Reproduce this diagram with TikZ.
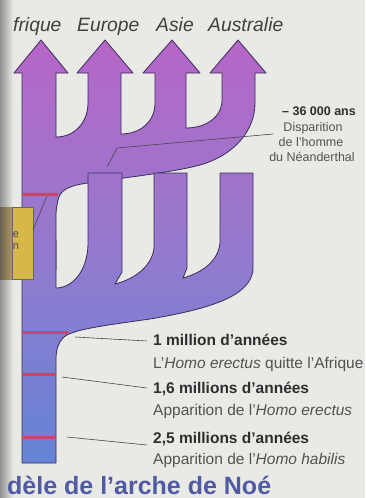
\documentclass[tikz,border=0pt]{standalone}
\usepackage{fontspec}
\setmainfont{Liberation Sans}
\definecolor{bg}{RGB}{233,233,229}
\definecolor{topc}{RGB}{182,102,198}
\definecolor{midc}{RGB}{148,122,206}
\definecolor{botc}{RGB}{100,132,214}
\definecolor{edge}{RGB}{58,44,92}
\definecolor{redbar}{RGB}{196,72,98}
\definecolor{titlec}{RGB}{80,90,165}
\definecolor{boxc}{RGB}{214,184,72}
\newcommand\UPath{(22,270) -- (22,73) -- (14,73) -- (41,40) -- (68,73) -- (56,73) -- (56,137) .. controls (75,137) and (88,122) .. (88,103) -- (88,73) -- (77,73) -- (105,40) -- (133,73) -- (121,73) -- (121,134) .. controls (140,134) and (155,122) .. (155,103) -- (155,73) -- (143,73) -- (172,40) -- (200,73) -- (186,73) -- (186,128) .. controls (206,128) and (222,117) .. (222,100) -- (222,73) -- (210,73) -- (238,40) -- (266,73) -- (255,73) -- (255,103) .. controls (255,130) and (235,155) .. (200,165) .. controls (170,173) and (120,178) .. (88,183) .. controls (72,185) and (60,189) .. (58,200) .. controls (57,205) and (56,209) .. (56,215) -- (56,270) -- cycle}
\newcommand\LPath{(56,240) -- (56,288) .. controls (72,288) and (87,272) .. (88,245) -- (88,173) -- (122,173) -- (122,272) -- (115,284) .. controls (135,279) and (152,266) .. (154,248) -- (154,173) -- (187,173) -- (187,268) -- (183,278) .. controls (201,273) and (218,262) .. (220,243) -- (220,173) -- (253,173) -- (253,270) .. controls (250,295) and (215,308) .. (150,319) .. controls (100,326) and (70,330) .. (63,338) .. controls (58,343) and (56,350) .. (56,360) -- (56,463) -- (22,463) -- (22,240)}
\begin{document}
\begin{tikzpicture}[x=1pt,y=-1pt,
  edgeline/.style={draw=edge, line width=0.8pt, line join=round},
  leader/.style={draw=black!72, line width=0.6pt},
  bar/.style={draw=redbar, line width=3pt},
  grad/.style={top color=topc, bottom color=botc, middle color=midc},
  boldlbl/.style={font=\fontsize{15.5}{18}\selectfont\bfseries, text=black!82, anchor=base west, inner sep=0pt},
  reglbl/.style={font=\fontsize{15.5}{18}\selectfont, text=black!68, anchor=base west, inner sep=0pt},
  toplbl/.style={font=\fontsize{19.3}{22}\selectfont\itshape, text=black!75, anchor=base west, inner sep=0pt},
  rlbl/.style={font=\fontsize{12.5}{15}\selectfont, text=black!68, anchor=base, inner sep=0pt},
]
\useasboundingbox (0,0) rectangle (365,498);
\fill[bg] (0,0) rectangle (365,498);
% page edge
\shade[left color={rgb,255:red,145;green,145;blue,145}, right color=bg] (0,0) rectangle (13,498);

% upper structure (Africa stem and the late dispersal)
\begin{scope}
  \clip \UPath;
  \shade[grad] (0,40) rectangle (365,463);
\end{scope}
\draw[edgeline] \UPath;

% lower structure (trunk and Homo erectus dispersal)
\begin{scope}
  \clip \LPath;
  \shade[grad] (0,40) rectangle (365,463);
\end{scope}
\draw[edgeline] \LPath;

% red time marks
\draw[bar] (22,194) -- (58,194);
\draw[bar] (22,332) -- (68,332);
\draw[bar] (22,374) -- (56,374);
\draw[bar] (22,437) -- (56,437);

% yellow box
\shade[left color={rgb,255:red,105;green,98;blue,82}, right color={rgb,255:red,175;green,155;blue,80}] (0,207) rectangle (12,279);
\node[draw=black!60, line width=0.5pt, fill=boxc, minimum width=21pt, minimum height=72pt, inner sep=0pt, anchor=north west] (box) at (12,207) {};
\node[font=\fontsize{11}{12}\selectfont, text=black!70, inner sep=0pt] (be) at (16,235) {e};
\node[font=\fontsize{11}{12}\selectfont, text=black!70, inner sep=0pt] (bn) at (16,247) {n};

% top labels
\node[toplbl] (afr) at (13,31) {frique};
\node[toplbl] (eur) at (77,31) {Europe};
\node[toplbl] (asi) at (156,31) {Asie};
\node[toplbl] (aus) at (208,31) {Australie};

% right label
\node[rlbl, font=\fontsize{12.5}{15}\selectfont\bfseries, text=black!82] (r1) at (319,115) {– 36 000 ans};
\node[rlbl] (r2) at (313,131) {Disparition};
\node[rlbl] (r3) at (311,146) {de l'homme};
\node[rlbl] (r4) at (312,161) {du Néanderthal};

% bottom labels
\node[boldlbl] (l1) at (153,345) {1 million d'années};
\node[reglbl] (l2) at (153,368) {L'\textit{Homo erectus} quitte l'Afrique};
\node[boldlbl] (l3) at (153,393) {1,6 millions d'années};
\node[reglbl] (l4) at (153,415) {Apparition de l'\textit{Homo erectus}};
\node[boldlbl] (l5) at (153,443) {2,5 millions d'années};
\node[reglbl] (l6) at (153,464) {Apparition de l'\textit{Homo habilis}};

% title
\node[font=\fontsize{25}{28}\selectfont\bfseries, text=titlec, anchor=base west, inner sep=0pt] (title) at (7,494) {dèle de l'arche de Noé};

% leader lines
\coordinate (n1) at (273,134);
\coordinate (n2) at (117,148);
\coordinate (n3) at (107,167);
\draw[leader] (n1) -- (n2) -- (n3);
\coordinate (y1) at (47,196);
\coordinate (y2) at (33,230);
\draw[leader] (y1) -- (y2);
\coordinate (a1) at (75,337);
\coordinate (a2) at (147,341);
\draw[leader] (a1) -- (a2);
\coordinate (b1) at (62,377);
\coordinate (b2) at (147,388);
\draw[leader] (b1) -- (b2);
\coordinate (c1) at (67,437);
\coordinate (c2) at (147,445);
\draw[leader] (c1) -- (c2);
\end{tikzpicture}
\end{document}
